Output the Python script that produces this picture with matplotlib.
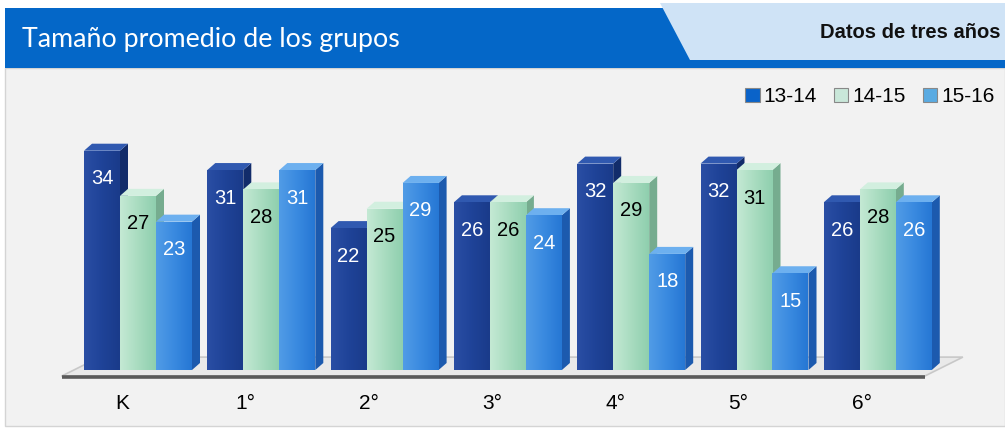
import numpy as np
import matplotlib
matplotlib.use("Agg")
import matplotlib.pyplot as plt
from matplotlib.patches import Polygon, Patch, Rectangle
from matplotlib.colors import LinearSegmentedColormap

# ---- data ----
categories = ["K", "1°", "2°", "3°", "4°", "5°", "6°"]
series_names = ["13-14", "14-15", "15-16"]
v_1314 = [34, 31, 22, 26, 32, 32, 26]
v_1415 = [27, 28, 25, 26, 29, 31, 28]
v_1516 = [23, 31, 29, 24, 18, 15, 26]
title = "Tamaño promedio de los grupos"
subtitle = "Datos de tres años"

series = [v_1314, v_1415, v_1516]
styles = [
    dict(front=["#2a4ea4", "#1f4398", "#1a3b8a"], side="#122c6a", top="#3059b0", legend="#0a63c9", txt="white"),
    dict(front=["#c4e9d4", "#a9dcc0", "#8fcfae"], side="#76ac8f", top="#d2efdf", legend="#c9e7d9", txt="black"),
    dict(front=["#519ce6", "#3a8ae0", "#2677d4"], side="#1c5aae", top="#6db0ef", legend="#5aabe2", txt="white"),
]

W, H = 1005, 429
fig = plt.figure(figsize=(W / 100, H / 100), dpi=100)
fig.patch.set_facecolor("white")

# ---- background / header (pixel coordinates) ----
bg = fig.add_axes([0, 0, 1, 1])
bg.set_xlim(0, W)
bg.set_ylim(H, 0)
bg.axis("off")
bg.add_patch(Rectangle((5, 68), W - 5, 358, facecolor="#f2f2f2", edgecolor="#d4d4d4", lw=1))
bg.add_patch(Polygon([(5, 8), (W, 8), (W, 68), (5, 68)], closed=True, facecolor="#0467c8", edgecolor="none"))
bg.add_patch(Polygon([(660, 3), (W, 3), (W, 60), (690, 60)], closed=True, facecolor="#cfe3f6", edgecolor="none"))
bg.text(22, 40, title, color="white", fontsize=19.3, family="Lato", fontweight="normal", va="center", ha="left")
bg.text(1000, 33, subtitle, color="#111111", fontsize=14.5, family="Liberation Sans", fontweight="bold",
        va="center", ha="right")

# ---- chart axes ----
px_per_x = 123.3
px_per_y = 6.45
x0_px, y0_px = 138, 370
ax_left_px, ax_right_px = 40, 1000
ax_top_px, ax_bot_px = 110, 388
ax = fig.add_axes([ax_left_px / W, (H - ax_bot_px) / H,
                   (ax_right_px - ax_left_px) / W, (ax_bot_px - ax_top_px) / H])
ax.set_ylim(-(ax_bot_px - y0_px) / px_per_y, (y0_px - ax_top_px) / px_per_y)
ax.patch.set_alpha(0)
for s in ax.spines.values():
    s.set_visible(False)
ax.yaxis.set_visible(False)

n = len(categories)
x = np.arange(n)
w = 36 / px_per_x
dx = 8 / px_per_x
dy = 7 / px_per_y

# floor
fl, fr = -0.62, n - 1 + 0.38
f_front, f_back = -0.95, 2.0
back_dx = 0.31
ax.add_patch(Polygon([(fl, f_front), (fr, f_front), (fr + back_dx, f_back), (fl + back_dx, f_back)],
                     closed=True, facecolor="#e9e9e9", edgecolor="#c8c8c8", lw=1.2, zorder=1))
ax.plot([fl, fr], [f_front - 0.15, f_front - 0.15], color="#5a5a5a", lw=2.6, zorder=1.5, solid_capstyle="butt")

# bars
for k, (vals, st) in enumerate(zip(series, styles)):
    xs = x + (k - 1) * w
    bars = ax.bar(xs, vals, width=w, color=st["front"][1], edgecolor="none", zorder=3 + k * 0.01)
    cmap = LinearSegmentedColormap.from_list("g%d" % k, st["front"])
    grad = np.linspace(0, 1, 64).reshape(1, -1)
    for b, v in zip(bars, vals):
        bx, bw, bh = b.get_x(), b.get_width(), b.get_height()
        ax.add_patch(Polygon([(bx + bw, 0), (bx + bw + dx, dy), (bx + bw + dx, bh + dy), (bx + bw, bh)],
                             closed=True, facecolor=st["side"], edgecolor="none", zorder=2.5))
        ax.add_patch(Polygon([(bx, bh), (bx + bw, bh), (bx + bw + dx, bh + dy), (bx + dx, bh + dy)],
                             closed=True, facecolor=st["top"], edgecolor="none", zorder=2.6))
        im = ax.imshow(grad, cmap=cmap, extent=[bx, bx + bw, 0, bh], aspect="auto",
                       interpolation="bilinear", zorder=3.2 + k * 0.01)
        im.set_clip_path(b)
        ax.text(bx + bw / 2, v - 28 / px_per_y, str(v), ha="center", va="center",
                color=st["txt"], fontsize=14.5, family="Liberation Sans", zorder=5)

ax.set_xticks(x - 16 / px_per_x)
ax.set_xticklabels(categories, fontsize=15, family="Liberation Sans")
ax.tick_params(axis="x", length=0, pad=4)
ax.set_xlim((ax_left_px - x0_px) / px_per_x, (ax_right_px - x0_px) / px_per_x)

handles = [Patch(facecolor=st["legend"], edgecolor="#888888", lw=0.8, label=nm)
           for st, nm in zip(styles, series_names)]
fig.legend(handles=handles, loc="upper right", bbox_to_anchor=(1003 / W, (H - 79) / H),
           ncol=3, frameon=False, prop={"family": "Liberation Sans", "size": 15},
           handlelength=0.7, handleheight=0.7, handletextpad=0.2, columnspacing=0.8, borderaxespad=0)

fig.savefig("out.png", dpi=100)
